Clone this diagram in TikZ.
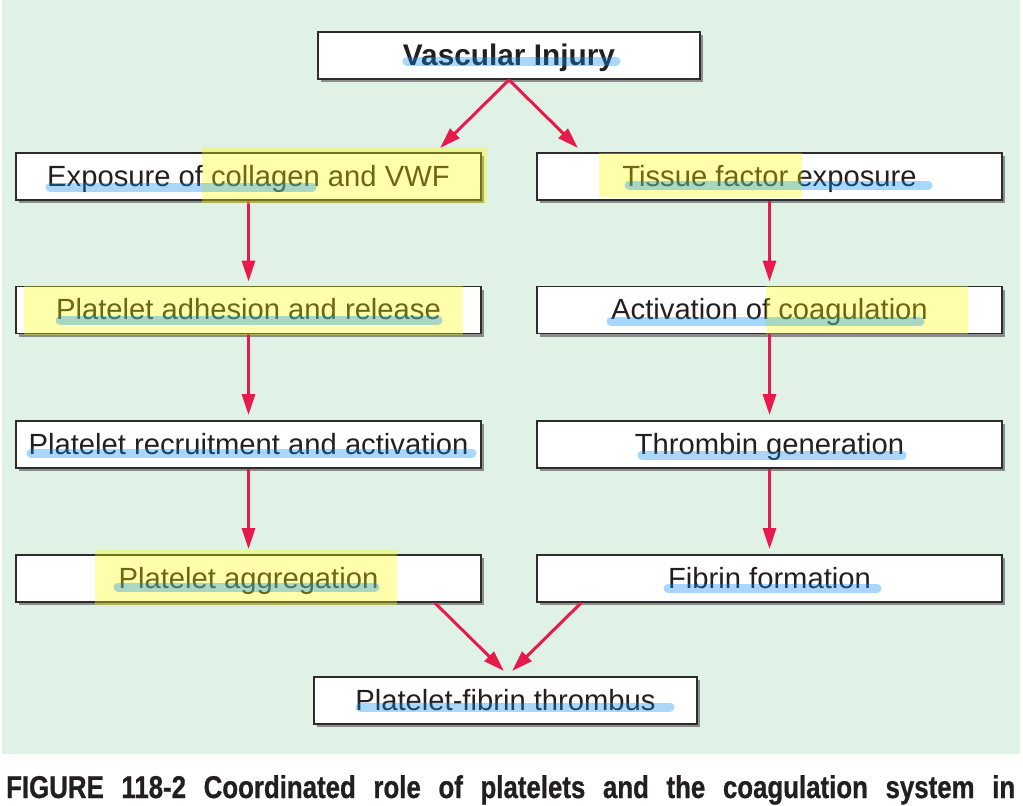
\documentclass[tikz,border=0pt]{standalone}
\usepackage{fontspec}
\setmainfont{Liberation Sans}
\newfontfamily\capfont{Liberation Sans Bold}[FakeStretch=0.82,FakeBold=0.8]
\usetikzlibrary{arrows.meta,shadows}
\definecolor{bgmint}{RGB}{224,241,230}
\definecolor{arrred}{RGB}{232,25,75}
\definecolor{boxline}{RGB}{45,45,45}
\definecolor{txt}{RGB}{35,31,32}
\definecolor{hlblue}{RGB}{12,140,240}
\definecolor{hlyellow}{RGB}{255,255,0}
\tikzset{
  flowbox/.style={draw=boxline, line width=1.8pt, fill=white, inner sep=0pt,
    minimum height=47pt, text height=20pt, text depth=1pt, text=txt,
    font=\fontsize{29.2}{31}\selectfont,
    drop shadow={shadow xshift=3pt, shadow yshift=-3pt, fill=black!45, opacity=1}},
  widebox/.style={flowbox, minimum width=465pt},
  arr/.style={draw=arrred, line width=3pt, -{Triangle[length=21pt,width=13pt]}},
  yhl/.style={fill=hlyellow, opacity=0.33},
  bhl/.style={draw=hlblue, line width=9pt, line cap=round, opacity=0.35}
}
\begin{document}
\begin{tikzpicture}[x=1pt,y=-1pt]
\useasboundingbox (0,0) rectangle (1023,806);
\fill[bgmint] (2,0) rectangle (1020,754);

% boxes
\node[flowbox, minimum width=382pt, font=\fontsize{29.8}{31}\selectfont\bfseries] (vi) at (509,55.5) {Vascular Injury};
\node[widebox] (ex) at (248.5,176.5) {Exposure of collagen and VWF};
\node[widebox] (ad) at (248.5,310) {Platelet adhesion and release};
\node[widebox] (rc) at (248.5,444.5) {Platelet recruitment and activation};
\node[widebox] (ag) at (248.5,578.5) {Platelet aggregation};
\node[widebox] (tf) at (769.5,176.5) {Tissue factor exposure};
\node[widebox] (ac) at (769.5,310) {Activation of coagulation};
\node[widebox] (th) at (769.5,444.5) {Thrombin generation};
\node[widebox] (fi) at (769.5,578.5) {Fibrin formation};
\node[flowbox, minimum width=383pt] (pf) at (505.5,700.5) {Platelet-fibrin thrombus};

% connector end points
\coordinate (viL) at (440,148);
\coordinate (viR) at (578,148);
\coordinate (agS) at (435,603);
\coordinate (fiS) at (581,603);
\coordinate (pfL) at (504,671);
\coordinate (pfR) at (512,671);

% connectors
\draw[arr] (vi.south) -- (viL);
\draw[arr] (vi.south) -- (viR);
\draw[arr, shorten >=4pt] (ex.south) -- (ad.north);
\draw[arr, shorten >=5pt] (ad.south) -- (rc.north);
\draw[arr, shorten >=5pt] (rc.south) -- (ag.north);
\draw[arr, shorten >=4pt] (tf.south) -- (ac.north);
\draw[arr, shorten >=5pt] (ac.south) -- (th.north);
\draw[arr, shorten >=5pt] (th.south) -- (fi.north);
\draw[arr] (agS) -- (pfL);
\draw[arr] (fiS) -- (pfR);

% highlighter marks
\fill[yhl] (202,147) rectangle (487,204);
\fill[yhl] (24,286) rectangle (463,335);
\fill[yhl] (599,153) rectangle (802,197);
\fill[yhl] (766,286) rectangle (968,334);
\fill[yhl] (95,550) rectangle (397,606);

\draw[bhl] (407,61) -- (616,61);
\draw[bhl] (50,187) -- (312,187);
\draw[bhl] (60,320) -- (438,320);
\draw[bhl] (629,185) -- (928,185);
\draw[bhl] (611,321) -- (920,321);
\draw[bhl] (31,453) -- (472,453);
\draw[bhl] (642,455) -- (902,455);
\draw[bhl] (118,587) -- (375,587);
\draw[bhl] (668,588) -- (877,588);
\draw[bhl] (360,707) -- (670,707);

% caption
\node[anchor=base west, inner sep=0pt, text=txt, font=\capfont\fontsize{31.5}{33}\selectfont] (cap) at (6,798)
  {\makebox[1009pt][s]{FIGURE 118-2 Coordinated role of platelets and the coagulation system in}};
\end{tikzpicture}
\end{document}
